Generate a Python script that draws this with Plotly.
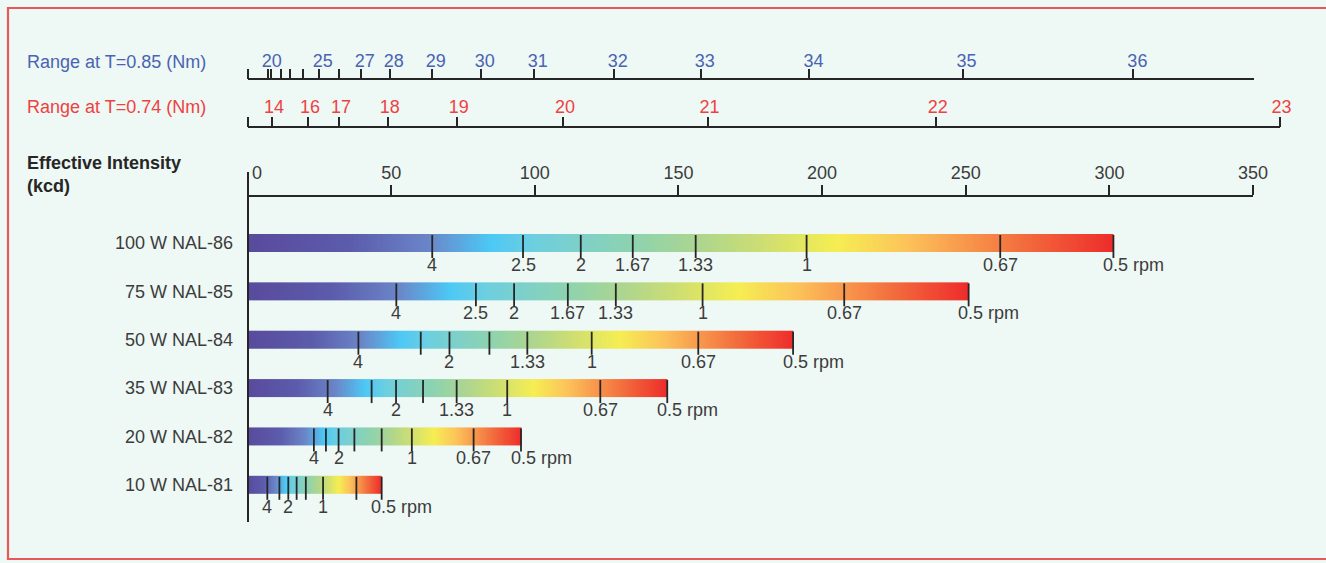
import numpy as np
import plotly.graph_objects as go

# ---------------- data ----------------
lamps = ["100 W NAL-86", "75 W NAL-85", "50 W NAL-84", "35 W NAL-83", "20 W NAL-82", "10 W NAL-81"]
intensity = [301.4, 251.0, 189.9, 146.1, 95.2, 46.7]          # kcd (bar end)

rpm_pos = [
    [64.3, 95.9, 116.0, 134.1, 156.0, 194.6, 262.0, 301.4],
    [51.8, 79.5, 92.8, 111.5, 128.2, 158.4, 207.7, 251.0],
    [38.6, 60.3, 70.3, 84.2, 97.4, 119.8, 156.9, 189.9],
    [27.9, 43.2, 51.7, 61.1, 72.8, 90.4, 122.8, 146.1],
    [23.1, 27.3, 31.7, 37.2, 46.7, 57.2, 78.7, 95.2],
    [6.9, 11.1, 14.2, 17.1, 20.3, 26.3, 37.9, 46.7],
]
rpm_text = [
    ["4", "2.5", "2", "1.67", "1.33", "1", "0.67", "0.5 rpm"],
    ["4", "2.5", "2", "1.67", "1.33", "1", "0.67", "0.5 rpm"],
    ["4", "", "2", "", "1.33", "1", "0.67", "0.5 rpm"],
    ["4", "", "2", "", "1.33", "1", "0.67", "0.5 rpm"],
    ["4", "", "2", "", "", "1", "0.67", "0.5 rpm"],
    ["4", "", "2", "", "", "1", "", "0.5 rpm"],
]

intensity_ticks = [0, 50, 100, 150, 200, 250, 300, 350]

# range at T=0.85 : intensity positions of range ticks 20..36 nm
blue_range = [20, 21, 22, 23, 24, 25, 26, 27, 28, 29, 30, 31, 32, 33, 34, 35, 36]
blue_pos = [7.03, 8.18, 11.56, 14.79, 19.42, 24.78, 31.74, 39.40, 49.50, 64.11,
            81.17, 99.62, 127.46, 157.74, 195.61, 248.90, 308.35]
blue_labeled = [20, 25, 27, 28, 29, 30, 31, 32, 33, 34, 35, 36]

# range at T=0.74
red_range = [14, 16, 17, 18, 19, 20, 21, 22, 23]
red_pos = [8.53, 21.06, 31.85, 48.80, 72.82, 109.82, 160.15, 239.54, 359.24]

# ---------------- style / layout constants ----------------
W, H = 1326, 563
BG = "#eef8f4"
BLUE = "#4a63b3"
RED = "#ee4242"
DARK = "#262626"
TXT = "#3c3c3c"
FONT = "Liberation Sans, Arial, sans-serif"

PX0 = 247.5           # pixel of intensity 0
PXU = 2.873           # pixels per kcd
ROW0 = 243.0          # pixel centre of first bar
ROWPX = 48.36         # pixels between bars
BAR_PX = 18.0
Y_TOP_PX, Y_BOT_PX = 172.0, 521.7
MAIN_AX_PX, BLUE_AX_PX, RED_AX_PX = 196.0, 79.3, 127.3
BLUE_END_PX, RED_END_PX = 1254.0, 1279.6


def px2paper_x(px):
    return px / W


def px2paper_y(px):
    return 1 - px / H


colorscale = [
    [0.00, "#594a9d"], [0.12, "#5c5cac"], [0.21, "#6a86c8"], [0.28, "#4cc8f5"],
    [0.33, "#6ccfe0"], [0.39, "#7fd0c6"], [0.45, "#8fd3ad"], [0.52, "#acd58f"],
    [0.60, "#d0df70"], [0.68, "#f5ee52"], [0.76, "#fcc45a"], [0.84, "#f7904a"],
    [0.90, "#f26a3c"], [1.00, "#ee2b2b"],
]

fig = go.Figure()

hh = (BAR_PX / 2) / ROWPX
tick_below = 6.0 / ROWPX

for i, (name, val) in enumerate(zip(lamps, intensity)):
    n = 320
    edges = np.linspace(0, val, n + 1)
    centres = (edges[:-1] + edges[1:]) / 2 / val
    fig.add_trace(go.Heatmap(
        x=edges, y=[i - hh, i + hh], z=[centres],
        colorscale=colorscale, zmin=0, zmax=1, showscale=False,
        hoverinfo="skip", zsmooth=False,
    ))
    xs, ys = [], []
    for p in rpm_pos[i]:
        xs += [p, p, None]
        ys += [i - hh + 0.02, i + hh + tick_below, None]
    fig.add_trace(go.Scatter(x=xs, y=ys, mode="lines",
                             line=dict(color=DARK, width=1.8),
                             hoverinfo="skip", showlegend=False))
    for p, t in zip(rpm_pos[i], rpm_text[i]):
        if not t:
            continue
        if t.endswith("rpm"):
            fig.add_annotation(x=p, y=i, text=t, showarrow=False, xanchor="left",
                               xshift=-12.5, yshift=-22, yanchor="middle",
                               font=dict(size=18, color=TXT, family=FONT))
        else:
            fig.add_annotation(x=p, y=i, text=t, showarrow=False, xanchor="center",
                               yshift=-22, yanchor="middle",
                               font=dict(size=18, color=TXT, family=FONT))

# invisible traces so that the range axes are drawn
for ax in ["x2", "x3"]:
    fig.add_trace(go.Scatter(x=[0], y=[0], xaxis=ax, yaxis="y", mode="markers",
                             marker=dict(opacity=0), hoverinfo="skip", showlegend=False))

y_lo = (Y_BOT_PX - ROW0) / ROWPX
y_hi = (Y_TOP_PX - ROW0) / ROWPX

axis_common = dict(showgrid=False, zeroline=False, showline=True, linecolor=DARK,
                   linewidth=1.6, ticks="outside", tickcolor=DARK, tickwidth=1.6,
                   ticklen=10, side="top", anchor="free", fixedrange=True,
                   automargin=False)

fig.update_layout(
    template="none",
    width=W, height=H, autosize=False, margin=dict(l=0, r=0, t=0, b=0, pad=0),
    paper_bgcolor=BG, plot_bgcolor="rgba(0,0,0,0)", showlegend=False,
    font=dict(family=FONT, size=18, color=TXT),
    xaxis=dict(**axis_common,
               domain=[px2paper_x(PX0), px2paper_x(PX0 + 350 * PXU)],
               range=[0, 350], position=px2paper_y(MAIN_AX_PX),
               tickvals=intensity_ticks,
               ticktext=[""] + [str(v) for v in intensity_ticks[1:]],
               tickfont=dict(size=18, color=TXT), ticklabelstandoff=-1),
    xaxis2=dict(**axis_common,
                domain=[px2paper_x(PX0), px2paper_x(BLUE_END_PX)],
                range=[0, (BLUE_END_PX - PX0) / PXU], position=px2paper_y(BLUE_AX_PX),
                tickvals=[0] + blue_pos,
                ticktext=[""] + [str(r) if r in blue_labeled else "" for r in blue_range],
                tickfont=dict(size=18, color=BLUE), ticklabelshift=4,
                ticklabelstandoff=-6),
    xaxis3=dict(**axis_common,
                domain=[px2paper_x(PX0), px2paper_x(RED_END_PX)],
                range=[0, (RED_END_PX - PX0) / PXU], position=px2paper_y(RED_AX_PX),
                tickvals=[0] + red_pos,
                ticktext=[""] + [str(r) for r in red_range],
                tickfont=dict(size=18, color=RED), ticklabelshift=2,
                ticklabelstandoff=-4),
    yaxis=dict(domain=[px2paper_y(Y_BOT_PX), px2paper_y(Y_TOP_PX)],
               range=[y_lo, y_hi], anchor="free", position=px2paper_x(PX0),
               showgrid=False, zeroline=False, showline=True, linecolor=DARK,
               linewidth=1.8, ticks="", tickvals=list(range(len(lamps))),
               ticktext=lamps, tickfont=dict(size=18, color=TXT),
               ticklabelstandoff=10, fixedrange=True, automargin=False),
)

# "0" label of intensity axis sits right of the vertical line
fig.add_annotation(x=0, y=px2paper_y(173), yref="paper", text="0", showarrow=False,
                   xanchor="left", xshift=2, yanchor="middle",
                   font=dict(size=18, color=TXT, family=FONT))

# axis titles
fig.add_annotation(x=px2paper_x(25), y=px2paper_y(61.7), xref="paper", yref="paper",
                   text="Range at T=0.85 (Nm)", showarrow=False, xanchor="left",
                   yanchor="middle", font=dict(size=18, color=BLUE, family=FONT))
fig.add_annotation(x=px2paper_x(25), y=px2paper_y(106.7), xref="paper", yref="paper",
                   text="Range at T=0.74 (Nm)", showarrow=False, xanchor="left",
                   yanchor="middle", font=dict(size=18, color=RED, family=FONT))
fig.add_annotation(x=px2paper_x(25), y=px2paper_y(163.5), xref="paper", yref="paper",
                   text="<b>Effective Intensity</b>", showarrow=False, xanchor="left",
                   yanchor="middle", font=dict(size=18, color=DARK, family=FONT))
fig.add_annotation(x=px2paper_x(25), y=px2paper_y(186), xref="paper", yref="paper",
                   text="<b>(kcd)</b>", showarrow=False, xanchor="left",
                   yanchor="middle", font=dict(size=18, color=DARK, family=FONT))

# frame
fig.add_shape(type="rect", xref="paper", yref="paper",
              x0=px2paper_x(8), x1=1.02, y0=px2paper_y(559), y1=px2paper_y(8),
              line=dict(color="#e9575b", width=2.2), fillcolor="rgba(0,0,0,0)", layer="below")

post = (
    "document.body.style.margin='0';"
    "document.documentElement.style.overflow='hidden';"
    "document.body.style.overflow='hidden';"
    "var gd=document.getElementById('{plot_id}');"
    "Plotly.relayout(gd,{width:%d,height:%d,autosize:false});" % (W, H)
)

fig.write_html("out.html",
               config={"displayModeBar": False, "responsive": False},
               post_script=post)
